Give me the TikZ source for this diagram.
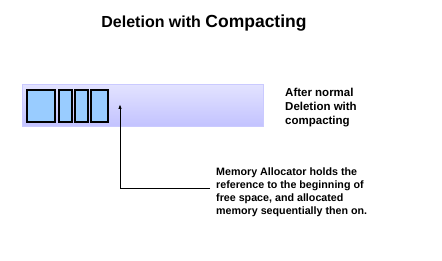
\documentclass[tikz,border=0pt]{standalone}
\usepackage{fontspec}
\setmainfont{Liberation Sans}
\usetikzlibrary{arrows.meta}
\definecolor{barTop}{HTML}{E2E2FF}
\definecolor{barBot}{HTML}{C2C2FF}
\definecolor{barLine}{HTML}{CACAFF}
\definecolor{blkFill}{HTML}{99CCFF}
\begin{document}
\begin{tikzpicture}[
    x=1pt, y=-1pt,
    heap/.style={rectangle, draw=barLine, line width=1pt, top color=barTop, bottom color=barBot, inner sep=0pt},
    blk/.style={rectangle, draw=black, line width=1.2pt, fill=blkFill, minimum height=32pt, inner sep=0pt},
    note/.style={align=left, font=\bfseries, inner sep=0pt, anchor=north west},
    ptr/.style={-{Latex[length=5pt,width=3.5pt]}, line width=1pt}
]
\useasboundingbox (0,0) rectangle (442,261);

% Title
\node[font=\bfseries, anchor=base] (title) at (204,28) {\fontsize{16}{18}\selectfont Deletion with \fontsize{17.5}{20}\selectfont Compacting};

% Memory bar
\node[heap, minimum width=241pt, minimum height=42pt] (bar) at (142.5,106) {};

% Blocks after compacting
\node[blk, minimum width=28pt] (blk1) at (41,106) {};
\node[blk, minimum width=13pt] (blk2) at (65.5,106) {};
\node[blk, minimum width=13pt] (blk3) at (81.5,106) {};
\node[blk, minimum width=17pt] (blk4) at (99.5,106) {};

% Labels
\node[note, font=\bfseries\fontsize{11.5}{14}\selectfont] (after) at (285,88) {After normal\\Deletion with\\compacting};
\node[note, font=\bfseries\fontsize{10.7}{13}\selectfont] (memo) at (216,168) {Memory Allocator holds the\\reference to the beginning of\\free space, and allocated\\memory sequentially then on.};

% Pointer to free space
\coordinate (start) at (210,189);
\coordinate (bend) at (120,189);
\coordinate (tip) at (120,104);
\draw[ptr] (start) -- (bend) -- (tip);

\end{tikzpicture}
\end{document}
